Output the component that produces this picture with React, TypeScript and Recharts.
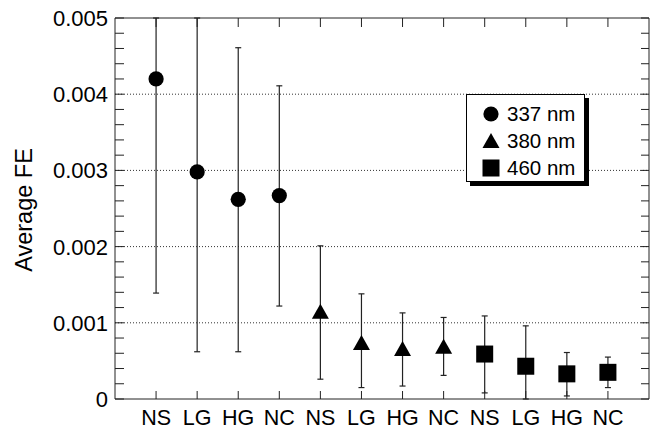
import React from "react";
import {
  ScatterChart,
  Scatter,
  XAxis,
  YAxis,
  ErrorBar,
  ReferenceLine,
  Legend,
  Label,
} from "recharts";

const FONT = '"Liberation Sans", Arial, sans-serif';

const groups = ["NS", "LG", "HG", "NC"];
const wavelengths = ["337 nm", "380 nm", "460 nm"];

// mean FE and visible error-bar ends per group
const fe337 = [0.0042, 0.00298, 0.00262, 0.00267];
const low337 = [0.00139, 0.00062, 0.00062, 0.00122];
const high337 = [0.005, 0.005, 0.00461, 0.00411];

const fe380 = [0.00112, 0.00071, 0.00063, 0.00066];
const low380 = [0.00026, 0.00015, 0.00017, 0.00031];
const high380 = [0.00201, 0.00138, 0.00113, 0.00107];

const fe460 = [0.00059, 0.00043, 0.00033, 0.00035];
const low460 = [0.00008, 0, 0.00004, 0.00015];
const high460 = [0.00109, 0.00096, 0.00061, 0.00055];

const gridValues = [0.001, 0.002, 0.003, 0.004];
const yMinor = Array.from({ length: 26 }, (_, i) => +(i * 0.0002).toFixed(4));
const xTicks = Array.from({ length: 12 }, (_, i) => i + 1);
const xLabels = [...groups, ...groups, ...groups];

const build = (fe: number[], low: number[], high: number[], offset: number) =>
  fe.map((y, i) => ({ x: offset + i + 1, y, err: [y - low[i], high[i] - y] }));

const data337 = build(fe337, low337, high337, 0);
const data380 = build(fe380, low380, high380, 4);
const data460 = build(fe460, low460, high460, 8);

const Circle = ({ cx, cy }: any) => <circle cx={cx} cy={cy} r={7.6} fill="#000" />;
const Triangle = ({ cx, cy }: any) => (
  <polygon
    points={`${cx},${cy - 10} ${cx - 8.5},${cy + 5} ${cx + 8.5},${cy + 5}`}
    fill="#000"
  />
);
const Square = ({ cx, cy }: any) => (
  <rect x={cx - 8.5} y={cy - 8.5} width={17} height={17} fill="#000" />
);
const Nothing = () => <g />;

const isMajor = (v: number) => Math.round(v * 10000) % 10 === 0;

const LeftTick = ({ x, y, payload }: any) => (
  <g>
    <line x1={x} x2={x + 9} y1={y} y2={y} stroke="#222" />
    {isMajor(payload.value) && (
      <text
        x={x - 7}
        y={y}
        dy="0.36em"
        textAnchor="end"
        fontSize={22}
        fontFamily={FONT}
        fill="#000"
      >
        {payload.value === 0 ? "0" : payload.value.toFixed(3)}
      </text>
    )}
  </g>
);

const RightTick = ({ x, y }: any) => (
  <line x1={x - 8} x2={x} y1={y} y2={y} stroke="#222" />
);

const BottomTick = ({ x, y, payload }: any) => (
  <g>
    <line x1={x} x2={x} y1={y} y2={y - 8} stroke="#222" />
    <text
      x={x}
      y={y + 26}
      textAnchor="middle"
      fontSize={21.5}
      fontFamily={FONT}
      fill="#000"
    >
      {xLabels[payload.value - 1]}
    </text>
  </g>
);

const TopTick = ({ x, y }: any) => (
  <line x1={x} x2={x} y1={y} y2={y + 9} stroke="#222" />
);

const icons = [
  <circle cx={9} cy={9} r={7.6} fill="#000" />,
  <polygon points="9,1 0.5,16 17.5,16" fill="#000" />,
  <rect x={0.5} y={0.5} width={17} height={17} fill="#000" />,
];

const renderLegend = () => (
  <div
    style={{
      border: "1px solid #000",
      boxShadow: "4px 4px 0 #000",
      background: "#fff",
      padding: "5px 0 4px 15px",
      fontFamily: FONT,
      fontSize: 20.5,
      lineHeight: "27px",
      boxSizing: "border-box",
      width: 119,
      height: 88,
    }}
  >
    {wavelengths.map((w, i) => (
      <div key={w} style={{ display: "flex", alignItems: "center" }}>
        <svg width={18} height={18} style={{ marginRight: 7 }}>
          {icons[i]}
        </svg>
        <span>{w}</span>
      </div>
    ))}
  </div>
);

const YLabel = () => (
  <text
    x={24}
    y={210}
    transform="rotate(-90 24 210)"
    textAnchor="middle"
    dominantBaseline="central"
    fontSize={23.5}
    fontFamily={FONT}
    fill="#000"
  >
    Average FE
  </text>
);

export default function App() {
  return (
    <div style={{ position: "absolute", left: 0, top: 0, background: "#fff" }}>
      <ScatterChart
        width={655}
        height={430}
        margin={{ top: 17, right: 5, bottom: 0, left: 0 }}
      >
        <XAxis
          xAxisId="b"
          dataKey="x"
          type="number"
          domain={[0, 13]}
          ticks={xTicks}
          height={31}
          tickSize={0}
          tickMargin={0}
          tick={<BottomTick />}
          axisLine={{ stroke: "#222" }}
          interval={0}
        />
        <XAxis
          xAxisId="t"
          orientation="top"
          dataKey="x"
          type="number"
          domain={[0, 13]}
          ticks={xTicks}
          height={1}
          tickSize={0}
          tickMargin={0}
          tick={<TopTick />}
          axisLine={{ stroke: "#222" }}
          interval={0}
        />
        <YAxis
          yAxisId="l"
          dataKey="y"
          type="number"
          domain={[0, 0.005]}
          allowDataOverflow
          ticks={yMinor}
          width={115}
          tickSize={0}
          tickMargin={0}
          tick={<LeftTick />}
          axisLine={{ stroke: "#222" }}
          interval={0}
          label={<Label content={<YLabel />} />}
        />
        <YAxis
          yAxisId="r"
          orientation="right"
          dataKey="y"
          type="number"
          domain={[0, 0.005]}
          allowDataOverflow
          ticks={yMinor}
          width={1}
          tickSize={0}
          tickMargin={0}
          tick={<RightTick />}
          axisLine={{ stroke: "#222" }}
          interval={0}
        />
        {gridValues.map((v) => (
          <ReferenceLine
            key={v}
            y={v}
            xAxisId="b"
            yAxisId="l"
            stroke="#333"
            strokeDasharray="1 2"
          />
        ))}
        <Legend
          layout="horizontal"
          align="center"
          verticalAlign="middle"
          content={renderLegend}
          wrapperStyle={{ left: 466, top: 94, width: 119, height: 88 }}
        />
        {/* invisible series so the mirrored top/right axes get drawn */}
        <Scatter
          data={data337}
          xAxisId="t"
          yAxisId="r"
          shape={<Nothing />}
          legendType="none"
          isAnimationActive={false}
        />
        <Scatter
          name="337 nm"
          data={data337}
          xAxisId="b"
          yAxisId="l"
          shape={<Circle />}
          isAnimationActive={false}
        >
          <ErrorBar dataKey="err" direction="y" width={3} stroke="#222" strokeWidth={1.2} isAnimationActive={false} />
        </Scatter>
        <Scatter
          name="380 nm"
          data={data380}
          xAxisId="b"
          yAxisId="l"
          shape={<Triangle />}
          isAnimationActive={false}
        >
          <ErrorBar dataKey="err" direction="y" width={3} stroke="#222" strokeWidth={1.2} isAnimationActive={false} />
        </Scatter>
        <Scatter
          name="460 nm"
          data={data460}
          xAxisId="b"
          yAxisId="l"
          shape={<Square />}
          isAnimationActive={false}
        >
          <ErrorBar dataKey="err" direction="y" width={3} stroke="#222" strokeWidth={1.2} isAnimationActive={false} />
        </Scatter>
      </ScatterChart>
    </div>
  );
}
